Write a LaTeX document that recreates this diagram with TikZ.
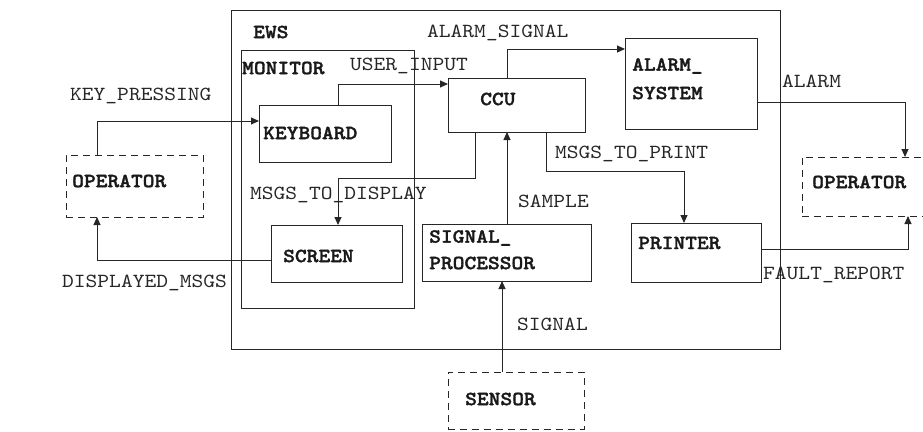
\documentclass[tikz,border=0pt]{standalone}
\usepackage{fontspec}
\setmonofont{lmmono10-regular.otf}[BoldFont=lmmonolt10-bold.otf, BoldFeatures={FakeBold=1.6}, FakeStretch=1.12]
\usetikzlibrary{arrows.meta}
\tikzset{
  box/.style={draw=black!85, line width=1pt, rectangle, inner sep=0pt, outer sep=0pt, anchor=north west},
  extbox/.style={box, dash pattern=on 7pt off 5pt},
  lbl/.style={font=\fontsize{20}{21}\ttfamily, text=black!85, anchor=west, inner sep=0pt},
  blbl/.style={font=\fontsize{20}{21}\ttfamily\bfseries, text=black!90, anchor=west, inner sep=0pt, align=left},
  flow/.style={draw=black!85, line width=1pt, -{Triangle[length=8pt,width=7pt]}},
}
\begin{document}
\begin{tikzpicture}[x=1pt,y=-1pt]
\useasboundingbox (0,0) rectangle (923,431);
% boxes
\node[box, minimum width=549pt, minimum height=339pt] (ews) at (231,10) {};
\node[box, minimum width=173pt, minimum height=258pt] (mon) at (241,50) {};
\node[box, minimum width=132pt, minimum height=57pt] (kb) at (259,105) {};
\node[box, minimum width=137pt, minimum height=54pt] (ccu) at (448,78) {};
\node[box, minimum width=132pt, minimum height=91pt] (alarm) at (625,38) {};
\node[box, minimum width=131pt, minimum height=57pt] (scr) at (271,225) {};
\node[box, minimum width=169pt, minimum height=57pt] (sp) at (422,224) {};
\node[box, minimum width=130pt, minimum height=59pt] (prn) at (631,223) {};
\node[extbox, minimum width=137pt, minimum height=62pt] (opl) at (66,155) {};
\node[extbox, minimum width=138pt, minimum height=59pt] (opr) at (802,157) {};
\node[extbox, minimum width=136pt, minimum height=57pt] (sen) at (448,372) {};
% box labels
\node[blbl] (ewst) at (253,32) {EWS};
\node[blbl] (mont) at (242,68) {MONITOR};
\node[blbl] (kbt) at (263,133) {KEYBOARD};
\node[blbl] (ccut) at (480,99) {CCU};
\node[blbl] (alt1) at (632,66) {ALARM\_};
\node[blbl] (alt2) at (632,93) {SYSTEM};
\node[blbl] (oplt) at (72,181) {OPERATOR};
\node[blbl] (oprt) at (812,182) {OPERATOR};
\node[blbl] (scrt) at (283,256) {SCREEN};
\node[blbl] (spt1) at (429,238) {SIGNAL\_};
\node[blbl] (spt2) at (429,263) {PROCESSOR};
\node[blbl] (prnt) at (638,243) {PRINTER};
\node[blbl] (sent) at (465,399) {SENSOR};
% connectors
\draw[flow] (opl.north -| 97,0) |- (kb.west |- 0,121);
\draw[flow] (kb.north -| 338,0) |- (ccu.west |- 0,84);
\draw[flow] (ccu.north -| 507,0) |- (alarm.west |- 0,49);
\draw[flow] (ccu.south -| 475,0) |- (338,178) -- (scr.north -| 338,0);
\draw[flow] (sp.north -| 507,0) -- (ccu.south -| 507,0);
\draw[flow] (ccu.south -| 546,0) |- (684,171) -- (prn.north -| 684,0);
\draw[flow] (alarm.east |- 0,102) -| (opr.north -| 905,0);
\draw[flow] (prn.east |- 0,249) -| (opr.south -| 908,0);
\draw[flow] (scr.west |- 0,260) -| (opl.south -| 97,0);
\draw[flow] (sen.north -| 502,0) -- (sp.south -| 502,0);
% connector labels
\node[lbl] (l1) at (70,96) {KEY\_PRESSING};
\node[lbl] (l2) at (350,66) {USER\_INPUT};
\node[lbl] (l3) at (427,33) {ALARM\_SIGNAL};
\node[lbl] (l4) at (250,195) {MSGS\_TO\_DISPLAY};
\node[lbl] (l5) at (518,201) {SAMPLE};
\node[lbl] (l6) at (555,154) {MSGS\_TO\_PRINT};
\node[lbl] (l7) at (782,81) {ALARM};
\node[lbl] (l8) at (763,275) {FAULT\_REPORT};
\node[lbl] (l9) at (62,283) {DISPLAYED\_MSGS};
\node[lbl] (l10) at (517,324) {SIGNAL};
\end{tikzpicture}
\end{document}
